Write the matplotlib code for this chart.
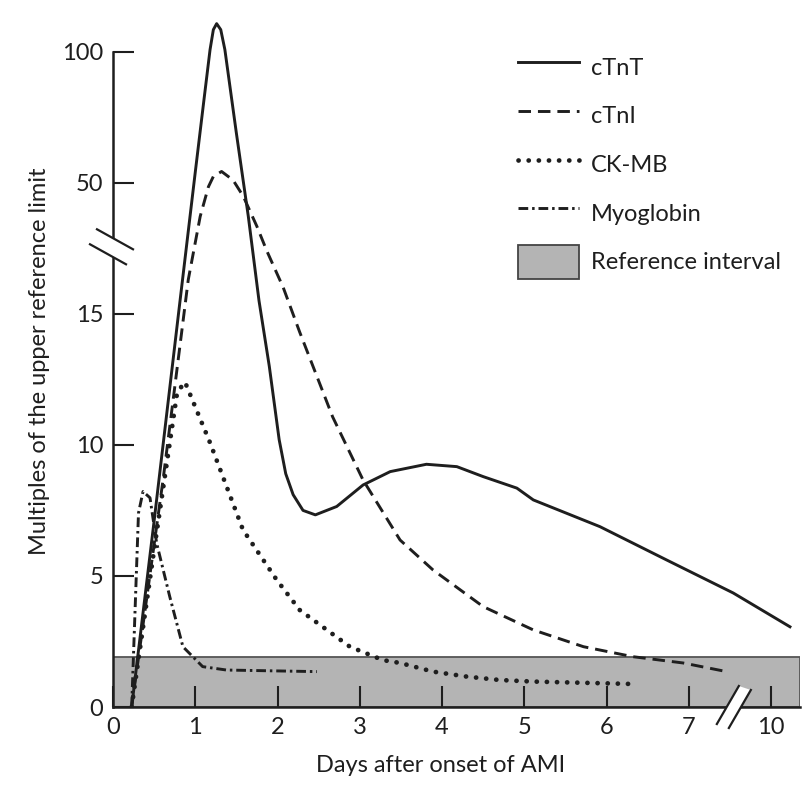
import numpy as np
import matplotlib
matplotlib.use("Agg")
import matplotlib.pyplot as plt
from matplotlib.patches import Patch, Polygon
from matplotlib.lines import Line2D
from matplotlib.transforms import IdentityTransform
from matplotlib import font_manager

# ---------------- data ----------------
ctnt_x = [0.227, 0.5, 0.8, 1.0, 1.106, 1.18, 1.22, 1.26, 1.31, 1.36, 1.50, 1.645, 1.775,
          1.90, 2.02, 2.10, 2.19, 2.31, 2.46, 2.72, 3.04, 3.37, 3.81, 4.18, 4.50, 4.91,
          5.11, 5.92, 6.73, 7.7, 11.15]
ctnt_y = [0.0, 7.1, 15.1, 54.0, 81.7, 100.8, 108.4, 110.7, 108.4, 100.8, 68.9, 33.3, 15.5,
          13.0, 10.2, 8.9, 8.1, 7.5, 7.33, 7.65, 8.47, 8.98, 9.26, 9.17, 8.79, 8.35,
          7.9, 6.88, 5.61, 4.35, 3.06]

ctni_x = [0.227, 0.61, 0.915, 1.06, 1.16, 1.22, 1.32, 1.46, 1.585, 1.75, 1.87, 2.07, 2.27,
          2.67, 3.04, 3.49, 3.89, 4.50, 5.11, 5.72, 6.32, 6.93, 7.46]
ctni_y = [0.0, 8.7, 16.3, 33.3, 48.0, 52.4, 54.3, 51.0, 43.2, 28.3, 17.4, 16.0, 14.3,
          11.07, 8.66, 6.37, 5.23, 3.83, 2.94, 2.30, 1.92, 1.68, 1.35]

ckmb_x = [0.227, 0.5, 0.78, 0.875, 1.18, 1.58, 1.99, 2.27, 2.40, 2.88, 3.28, 3.49, 3.89,
          4.30, 4.70, 5.11, 6.29]
ckmb_y = [0.0, 6.0, 12.0, 12.4, 10.08, 6.76, 4.85, 3.70, 3.40, 2.30, 1.79, 1.68, 1.35,
          1.16, 1.03, 0.97, 0.88]

myo_x = [0.227, 0.267, 0.31, 0.365, 0.45, 0.53, 0.69, 0.85, 1.09, 1.38, 2.48]
myo_y = [0.0, 3.58, 7.4, 8.22, 7.98, 6.26, 4.21, 2.30, 1.54, 1.41, 1.35]

ref_upper = 1.9

series_labels = ["cTnT", "cTnI", "CK-MB", "Myoglobin"]
ref_label = "Reference interval"
x_ticks = [0, 1, 2, 3, 4, 5, 6, 7, 10]
y_ticks = [0, 5, 10, 15, 50, 100]
x_label = "Days after onset of AMI"
y_label = "Multiples of the upper reference limit"

# ---------------- fonts ----------------
avail = {f.name for f in font_manager.fontManager.ttflist}
fam = [f for f in ["Lato", "Liberation Sans", "DejaVu Sans"] if f in avail]
plt.rcParams["font.family"] = fam
plt.rcParams["lines.scale_dashes"] = False
INK = "#1e1e1e"
FS = 17

# ---------------- broken scales ----------------
YB0, YB1 = 17.5, 50.0
def yf(v):
    v = np.asarray(v, dtype=float)
    return np.where(v <= YB0, v / 5.0,
                    np.where(v < YB1, 3.5 + (v - YB0) / (YB1 - YB0) * 0.5,
                             4.0 + (v - YB1) / 50.0))
def yi(p):
    p = np.asarray(p, dtype=float)
    return np.where(p <= 3.5, p * 5.0,
                    np.where(p < 4.0, YB0 + (p - 3.5) / 0.5 * (YB1 - YB0),
                             YB1 + (p - 4.0) * 50.0))

XB = 7.5
def xf(x):
    x = np.asarray(x, dtype=float)
    return np.where(x <= XB, x, XB + (x - XB) / 5.0)
def xi(p):
    p = np.asarray(p, dtype=float)
    return np.where(p <= XB, p, XB + (p - XB) * 5.0)

W, H = 802, 790
fig = plt.figure(figsize=(W / 100, H / 100), dpi=100)
ax = fig.add_axes([113 / W, 1 - 707 / H, 687 / W, 692 / H])
ax.set_xscale("function", functions=(xf, xi))
ax.set_yscale("function", functions=(yf, yi))
ax.set_xlim(0, 11.76)
ax.set_ylim(0, 114)

# reference interval
ax.axhspan(0, ref_upper, facecolor="#b4b4b4", edgecolor="#555555", lw=1.3, zorder=1)

lw = 2.1
l1, = ax.plot(ctnt_x, ctnt_y, color=INK, lw=lw, solid_joinstyle="round", zorder=3)
l2, = ax.plot(ctni_x, ctni_y, color=INK, lw=lw, linestyle=(0, (9, 5)), zorder=3)
l3, = ax.plot(ckmb_x, ckmb_y, color=INK, lw=3.4, linestyle=(0, (0.1, 7.2)),
              dash_capstyle="round", zorder=3)
l4, = ax.plot(myo_x, myo_y, color=INK, lw=lw, linestyle=(0, (7, 2.8, 1.8, 2.8)), zorder=3)

# axes styling
for s in ["top", "right"]:
    ax.spines[s].set_visible(False)
for s in ["left", "bottom"]:
    ax.spines[s].set_linewidth(1.8)
    ax.spines[s].set_color(INK)
ax.spines["left"].set_bounds(0, 100)
ax.set_xticks(x_ticks)
ax.set_xticklabels([str(t) for t in x_ticks])
ax.set_yticks(y_ticks)
ax.set_yticklabels([str(t) for t in y_ticks])
ax.tick_params(axis="both", direction="in", length=15, width=1.5, color=INK,
               labelsize=FS, labelcolor=INK)
ax.tick_params(axis="y", pad=7)
ax.tick_params(axis="x", pad=7)
ax.minorticks_off()

ax.set_ylabel(y_label, fontsize=FS, color=INK, labelpad=9)
ax.set_xlabel(x_label, fontsize=FS, color=INK)
ax.xaxis.set_label_coords(0.477, -0.07)

# legend
patch = Patch(facecolor="#b4b4b4", edgecolor="#444444", lw=1.3)
leg = ax.legend([l1, l2, l3, l4, patch], series_labels + [ref_label],
                loc="upper left", bbox_to_anchor=(518 / W, 1 - 50 / H),
                bbox_transform=fig.transFigure, frameon=False, fontsize=FS,
                handlelength=2.6, handleheight=1.87, handletextpad=0.5,
                labelspacing=0.6, borderpad=0, borderaxespad=0)
for t in leg.get_texts():
    t.set_color(INK)

# break markers (drawn in pixel space around the break positions)
fig.canvas.draw()
def px(xv, yv):
    return ax.transData.transform((xv, yv))

# y-axis break
cx, cy = px(0, YB0)
cy += 1
l_a = [(cx - 16, cy + 18), (cx + 20, cy - 2)]
l_b = [(cx - 23, cy + 3), (cx + 13, cy - 17)]
fig.add_artist(Polygon([l_a[0], l_a[1], l_b[1], l_b[0]], closed=True,
                       transform=IdentityTransform(), facecolor="white",
                       edgecolor="none", zorder=5))
for seg in (l_a, l_b):
    fig.add_artist(Line2D([seg[0][0], seg[1][0]], [seg[0][1], seg[1][1]],
                          transform=IdentityTransform(), color=INK, lw=1.6, zorder=6))

# x-axis break
bx, by = px(7.8, 0)
m_a = [(bx - 18, by - 17), (bx + 4, by + 21)]
m_b = [(bx - 6, by - 21), (bx + 16, by + 17)]
fig.add_artist(Polygon([m_a[0], m_a[1], m_b[1], m_b[0]], closed=True,
                       transform=IdentityTransform(), facecolor="white",
                       edgecolor="none", zorder=5))
for seg in (m_a, m_b):
    fig.add_artist(Line2D([seg[0][0], seg[1][0]], [seg[0][1], seg[1][1]],
                          transform=IdentityTransform(), color=INK, lw=1.6, zorder=6))

fig.savefig("out.png", dpi=100, facecolor="white")
